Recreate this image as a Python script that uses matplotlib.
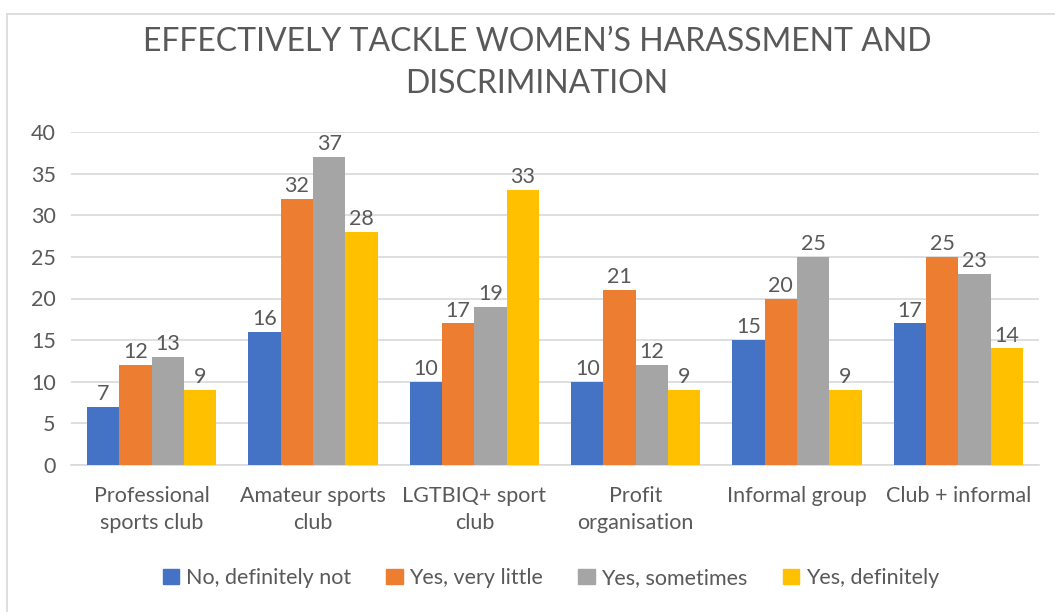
import numpy as np
import matplotlib
matplotlib.use("Agg")
from matplotlib import pyplot as plt
from matplotlib.patches import Rectangle
from matplotlib.lines import Line2D

categories = ["Professional\nsports club", "Amateur sports\nclub", "LGTBIQ+ sport\nclub",
              "Profit\norganisation", "Informal group", "Club + informal"]
series_names = ["No, definitely not", "Yes, very little", "Yes, sometimes", "Yes, definitely"]
no_definitely_not = [7, 16, 10, 10, 15, 17]
yes_very_little = [12, 32, 17, 21, 20, 25]
yes_sometimes = [13, 37, 19, 12, 25, 23]
yes_definitely = [9, 28, 33, 9, 9, 14]
colors = ["#4472C4", "#ED7D31", "#A5A5A5", "#FFC000"]

plt.rcParams['font.family'] = ['Lato', 'DejaVu Sans']
txt = "#595959"

fig = plt.figure(figsize=(10.55, 6.12), dpi=100)
ax = fig.add_axes([71/1055, 1-465/612, 968/1055, 333/612])

x = np.arange(len(categories))
w = 0.2
all_series = [no_definitely_not, yes_very_little, yes_sometimes, yes_definitely]
for i, vals in enumerate(all_series):
    bars = ax.bar(x + (i - 1.5) * w, vals, w, color=colors[i], label=series_names[i], zorder=3)
    ax.bar_label(bars, padding=2, fontsize=15.5, color=txt)

ax.set_xlim(-0.5, len(categories) - 0.5)
ax.set_ylim(0, 40)
ax.set_yticks(range(0, 41, 5))
ax.yaxis.grid(True, color="#D9D9D9", linewidth=1.2, zorder=0)
ax.tick_params(axis='y', length=0, labelsize=15.5, labelcolor=txt, pad=11)
ax.tick_params(axis='x', length=0, labelsize=15.5, labelcolor=txt, pad=15)
ax.set_xticks(x)
ax.set_xticklabels(categories, linespacing=1.45)
for s in ["top", "right", "left"]:
    ax.spines[s].set_visible(False)
ax.spines["bottom"].set_color("#D9D9D9")
ax.spines["bottom"].set_linewidth(1.2)

fig.text(537/1055, 1-63/612, "EFFECTIVELY TACKLE WOMEN\u2019S HARASSMENT AND\nDISCRIMINATION",
         ha="center", va="center", fontsize=23, color=txt, linespacing=1.5)

handles = [Rectangle((0, 0), 1, 1, color=c) for c in colors]
fig.legend(handles, series_names, loc="center", bbox_to_anchor=(551/1055, 1-578/612),
           ncol=4, frameon=False, fontsize=15.5, labelcolor=txt,
           handlelength=0.75, handleheight=0.75, handletextpad=0.3, columnspacing=1.65)

# chart border
fig.add_artist(Line2D([7/1055, 1], [1-14/612, 1-14/612], color="#D9D9D9", lw=1.2))
fig.add_artist(Line2D([7/1055, 7/1055], [0, 1-14/612], color="#D9D9D9", lw=1.2))

fig.savefig("out.png", dpi=100)
